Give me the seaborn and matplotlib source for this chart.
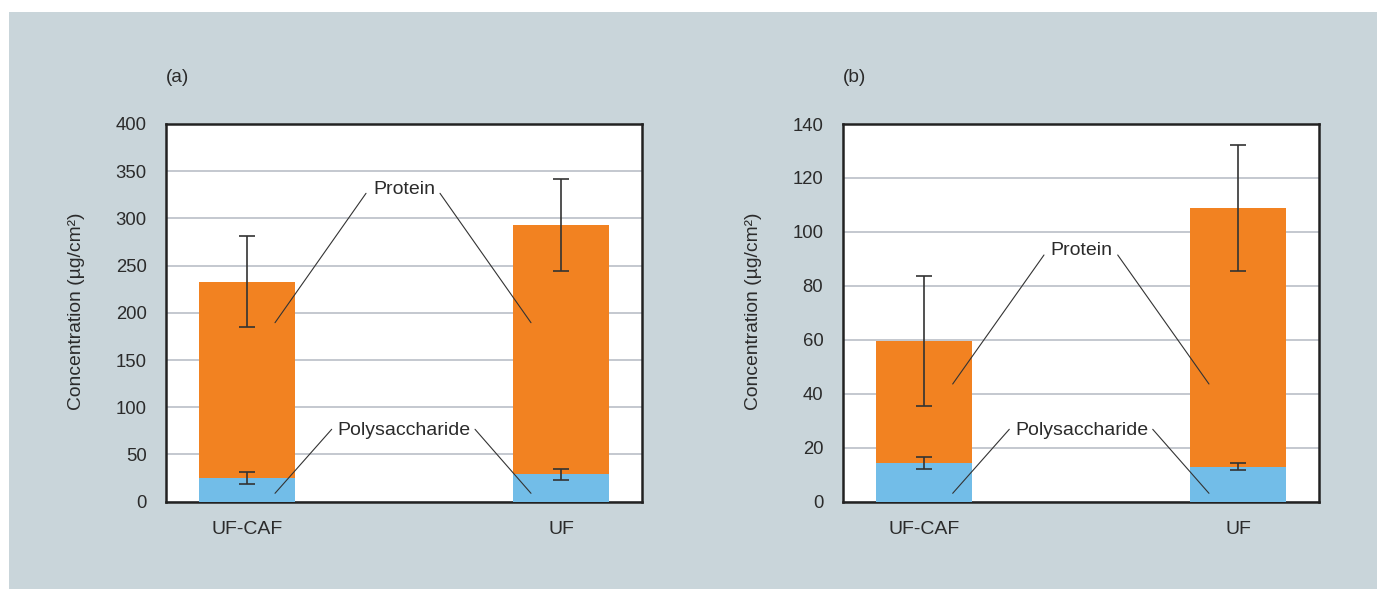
import matplotlib
matplotlib.use("Agg")
import matplotlib.pyplot as plt
from matplotlib.patches import Rectangle
import seaborn as sns
import pandas as pd

# ---- data ----
categories = ["UF-CAF", "UF"]
# panel (a)
a_poly = [25, 29]
a_poly_err = [6, 6]
a_protein = [208, 264]
a_protein_err = [48, 49]
a_yticks = [0, 50, 100, 150, 200, 250, 300, 350, 400]
# panel (b)
b_poly = [14.2, 13.0]
b_poly_err = [2.2, 1.4]
b_protein = [45.3, 95.8]
b_protein_err = [24, 23.4]
b_yticks = [0, 20, 40, 60, 80, 100, 120, 140]

ORANGE = "#F28221"
BLUE = "#72BDE8"
BG = "#C9D5DA"
GRID = "#C4C8CF"
TXT = "#2b2b2b"

sns.set_theme(style="white")
plt.rcParams["font.family"] = ["Liberation Sans", "DejaVu Sans"]

W, H = 1384, 590
fig = plt.figure(figsize=(W / 100, H / 100), dpi=100, facecolor="white")
fig.patches.append(Rectangle((9 / W, 1 - 589 / H), (1377 - 9) / W, (589 - 12) / H,
                             transform=fig.transFigure, facecolor=BG, edgecolor="none", zorder=-10))

bottom_px, top_px = 501.7, 124
ax_h = (bottom_px - top_px) / H
axA = fig.add_axes([166 / W, 1 - bottom_px / H, 476 / W, ax_h])
axB = fig.add_axes([842.7 / W, 1 - bottom_px / H, 476.3 / W, ax_h])


def draw(ax, poly, poly_err, protein, protein_err, yticks, label, prot_lines, prot_txt, poly_lines, poly_txt):
    total = [p + q for p, q in zip(poly, protein)]
    df = pd.DataFrame({"cat": categories, "total": total, "poly": poly})
    sns.barplot(data=df, x="cat", y="total", color=ORANGE, saturation=1, width=0.306,
                errorbar=None, ax=ax, zorder=2, linewidth=0, edgecolor="none")
    sns.barplot(data=df, x="cat", y="poly", color=BLUE, saturation=1, width=0.306,
                errorbar=None, ax=ax, zorder=3, linewidth=0, edgecolor="none")
    xs = list(range(len(categories)))
    ax.errorbar(xs, total, yerr=protein_err, fmt="none", ecolor="#333333",
                elinewidth=1.2, capsize=5.5, capthick=1.2, zorder=5)
    ax.errorbar(xs, poly, yerr=poly_err, fmt="none", ecolor="#333333",
                elinewidth=1.2, capsize=5.5, capthick=1.2, zorder=5)
    ax.set_xlim(-0.258, 1.258)
    ax.set_ylim(yticks[0], yticks[-1])
    ax.set_yticks(yticks)
    ax.set_yticklabels([str(t) for t in yticks])
    ax.set_facecolor("white")
    ax.grid(axis="y", color=GRID, linewidth=1.4)
    ax.grid(axis="x", visible=False)
    ax.set_axisbelow(True)
    for s in ax.spines.values():
        s.set_color("#222222")
        s.set_linewidth(1.8)
        s.set_visible(True)
    ax.tick_params(axis="y", length=0, pad=14, labelsize=13.3, labelcolor=TXT)
    ax.tick_params(axis="x", length=0, pad=14, labelsize=14, labelcolor=TXT)
    ax.set_xlabel("")
    ax.set_ylabel("Concentration (µg/cm²)", fontsize=13.9, color=TXT)
    ax.yaxis.set_label_coords(-0.17, 0.505)
    ax.text(0.0, 1.122, label, transform=ax.transAxes, ha="left", va="center",
            fontsize=13.7, color=TXT)
    # annotations
    for (x0, y0, x1, y1) in prot_lines + poly_lines:
        ax.plot([x0, x1], [y0, y1], transform=ax.transAxes, color="#333333",
                linewidth=0.8, zorder=6, clip_on=False)
    ax.text(prot_txt[0], prot_txt[1], "Protein", transform=ax.transAxes,
            ha="center", va="center", fontsize=14, color=TXT, zorder=6)
    ax.text(poly_txt[0], poly_txt[1], "Polysaccharide", transform=ax.transAxes,
            ha="center", va="center", fontsize=14, color=TXT, zorder=6)


draw(axA, a_poly, a_poly_err, a_protein, a_protein_err, a_yticks, "(a)",
     [(0.4202, 0.8165, 0.229, 0.4739), (0.5756, 0.8165, 0.7668, 0.4739)], (0.5, 0.8253),
     [(0.3481, 0.1917, 0.229, 0.0222), (0.6492, 0.1917, 0.7668, 0.0222)], (0.5, 0.188))
draw(axB, b_poly, b_poly_err, b_protein, b_protein_err, b_yticks, "(b)",
     [(0.4226, 0.6532, 0.2309, 0.3116), (0.5774, 0.6532, 0.769, 0.3116)], (0.5018, 0.6646),
     [(0.3498, 0.1917, 0.2309, 0.0222), (0.6509, 0.1917, 0.769, 0.0222)], (0.5018, 0.188))

fig.savefig("out.png", dpi=100, facecolor="white")
